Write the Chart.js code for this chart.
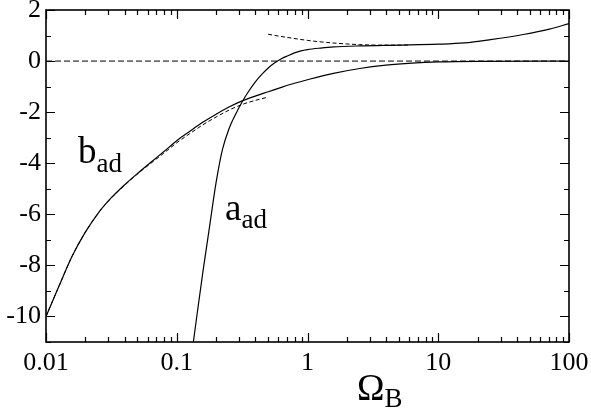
<!DOCTYPE html>
<html>
<head>
<meta charset="utf-8">
<script src="https://cdn.jsdelivr.net/npm/chart.js@4.4.1/dist/chart.umd.min.js"></script>
<style>
  html, body { margin: 0; padding: 0; background: #fff; }
  canvas { display: block; }
</style>
</head>
<body>
<canvas id="chart" width="591" height="418"></canvas>
<script>
// ─── Data ──────────────────────────────────────────────────────────
const omegaA = [0.134, 0.141, 0.158, 0.178, 0.200, 0.224, 0.251, 0.282, 0.316, 0.355, 0.398, 0.447, 0.501, 0.562, 0.631, 0.708, 0.794, 0.891, 1.0, 1.26, 1.58, 2.51, 5.01, 10, 15.8, 25.1, 44.7, 70.8, 100];
const aAd    = [-11, -10.15, -8.3, -6.5, -4.75, -3.45, -2.65, -2.08, -1.6, -1.18, -0.82, -0.52, -0.27, -0.07, 0.09, 0.21, 0.32, 0.40, 0.45, 0.51, 0.555, 0.595, 0.625, 0.66, 0.71, 0.84, 1.04, 1.25, 1.47];

const omegaB = [0.01, 0.0126, 0.0158, 0.02, 0.0251, 0.0316, 0.0398, 0.0501, 0.0631, 0.0794, 0.1, 0.126, 0.158, 0.2, 0.251, 0.316, 0.398, 0.501, 0.631, 0.794, 1.0, 1.58, 2.51, 3.98, 6.31, 10, 20, 100];
const bAd    = [-10, -8.8, -7.65, -6.7, -5.95, -5.35, -4.85, -4.4, -3.97, -3.55, -3.12, -2.75, -2.4, -2.08, -1.8, -1.56, -1.37, -1.2, -1.03, -0.87, -0.73, -0.48, -0.29, -0.16, -0.08, -0.035, -0.01, 0];

// dashed asymptotic forms
const omegaBSmall = [0.01, 0.0126, 0.0158, 0.02, 0.0251, 0.0316, 0.0398, 0.0501, 0.0631, 0.0794, 0.1, 0.126, 0.158, 0.2, 0.251, 0.316, 0.398, 0.501];
const bSmall      = [-10, -8.8, -7.65, -6.7, -5.95, -5.36, -4.87, -4.42, -4.01, -3.61, -3.2, -2.84, -2.5, -2.19, -1.92, -1.70, -1.54, -1.41];

const omegaALarge = [0.5, 0.6, 0.78, 1.0, 1.4, 2.0, 2.5, 3.5, 5, 6];
const aLarge      = [1.05, 0.98, 0.89, 0.81, 0.73, 0.67, 0.645, 0.625, 0.625, 0.63];

const omegaZero = [0.01, 100];
const zeroLine  = [0, 0];

const xDecades = [0.01, 0.1, 1, 10, 100];
const yMin = -11, yMax = 2;

// ─── helpers ───────────────────────────────────────────────────────
const pts = (xs, ys) => xs.map((x, i) => ({ x, y: ys[i] }));
const SERIF = '"Liberation Serif", "Times New Roman", serif';

function isDecade(v) {
  const l = Math.log10(v);
  return Math.abs(l - Math.round(l)) < 1e-6;
}

// inward tick marks on all four sides + frame + text labels
const framePlugin = {
  id: 'frame',
  afterDraw(chart) {
    const { ctx, chartArea: a, scales: { x, y } } = chart;
    ctx.save();
    ctx.strokeStyle = '#000';
    ctx.lineWidth = 1.2;
    ctx.beginPath();
    // x ticks: every 1..9 within each decade
    for (let d = 0; d < xDecades.length; d++) {
      for (let m = 1; m <= 9; m++) {
        const v = xDecades[d] * m;
        if (v > 100 + 1e-9) break;
        const px = Math.round(x.getPixelForValue(v)) + 0.5;
        const len = m === 1 ? 9 : 5;
        ctx.moveTo(px, a.bottom); ctx.lineTo(px, a.bottom - len);
        ctx.moveTo(px, a.top); ctx.lineTo(px, a.top + len);
      }
    }
    // y ticks: every integer, long at even values
    for (let v = yMin; v <= yMax; v++) {
      const py = Math.round(y.getPixelForValue(v)) + 0.5;
      const len = v % 2 === 0 ? 9 : 5;
      ctx.moveTo(a.left, py); ctx.lineTo(a.left + len, py);
      ctx.moveTo(a.right, py); ctx.lineTo(a.right - len, py);
    }
    ctx.stroke();
    ctx.lineWidth = 1.6;
    ctx.strokeRect(a.left, a.top, a.right - a.left, a.bottom - a.top);

    // curve labels and axis title (with subscripts)
    ctx.fillStyle = '#000';
    ctx.textBaseline = 'alphabetic';
    ctx.textAlign = 'left';
    function sub(main, s, px, py, big, small, drop) {
      ctx.font = big + 'px ' + SERIF;
      ctx.fillText(main, px, py);
      const w = ctx.measureText(main).width;
      ctx.font = small + 'px ' + SERIF;
      ctx.fillText(s, px + w, py + drop);
    }
    sub('b', 'ad', 78, 163, 37, 27, 9);
    sub('a', 'ad', 225, 220, 37, 27, 8);
    sub('\u03A9', 'B', 357, 400, 37, 27, 7);
    ctx.restore();
  }
};

const line = (data, dash, width) => ({
  data,
  borderColor: '#000',
  borderWidth: width,
  borderDash: dash,
  pointRadius: 0,
  fill: false,
  cubicInterpolationMode: 'monotone',
});

new Chart(document.getElementById('chart'), {
  type: 'line',
  data: {
    datasets: [
      line(pts(omegaZero, zeroLine), [6, 3], 1),
      line(pts(omegaBSmall, bSmall), [4, 2.5], 1),
      line(pts(omegaALarge, aLarge), [4, 2.5], 1),
      line(pts(omegaB, bAd), [], 1.2),
      line(pts(omegaA, aAd), [], 1.2),
    ],
  },
  options: {
    responsive: false,
    animation: false,
    parsing: false,
    layout: { padding: { top: 10, right: 22, left: 0, bottom: 0 } },
    plugins: { legend: { display: false }, tooltip: { enabled: false } },
    scales: {
      x: {
        type: 'logarithmic',
        min: 0.01,
        max: 100,
        grid: { display: false, drawTicks: false },
        border: { display: false },
        afterFit(s) { s.height = 76; s.paddingLeft = 0; s.paddingRight = 0; },
        ticks: {
          autoSkip: false,
          maxRotation: 0,
          padding: 6,
          color: '#000',
          font: { family: SERIF, size: 26 },
          callback(v) {
            if (!isDecade(v)) return null;
            const e = Math.round(Math.log10(v));
            return e < 0 ? (1 / Math.pow(10, -e)).toFixed(-e) : String(Math.pow(10, e));
          },
        },
      },
      y: {
        min: yMin,
        max: yMax,
        grid: { display: false, drawTicks: false },
        border: { display: false },
        afterFit(s) { s.width = 46; s.paddingTop = 0; s.paddingBottom = 0; },
        ticks: {
          stepSize: 1,
          autoSkip: false,
          padding: 5,
          color: '#000',
          font: { family: SERIF, size: 26 },
          callback: (v) => (v % 2 === 0 ? String(v) : null),
        },
      },
    },
  },
  plugins: [framePlugin],
});
</script>
</body>
</html>
